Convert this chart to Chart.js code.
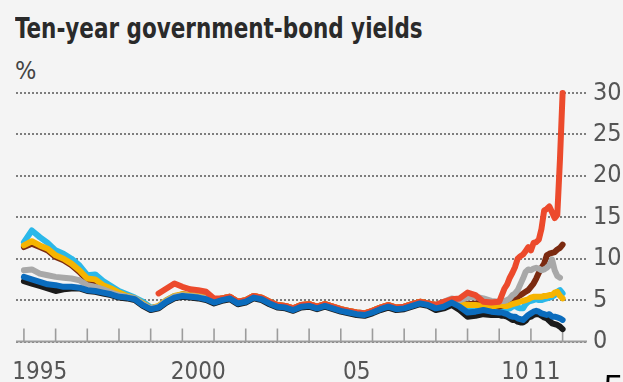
<!DOCTYPE html>
<html>
<head>
<meta charset="utf-8">
<script src="https://cdn.jsdelivr.net/npm/chart.js@4.4.1/dist/chart.umd.min.js"></script>
<style>
  html, body { margin: 0; padding: 0; background: #f4f4f4; overflow: hidden; }
  #wrap { position: relative; width: 623px; height: 382px; overflow: hidden; }
  #wrap canvas { position: absolute; left: 0; top: 0; }
  .txt { position: absolute; font-family: "DejaVu Sans Condensed", "Liberation Sans", sans-serif; white-space: nowrap; line-height: 1; transform-origin: 0 0; }
  #title { left: 15px; top: 14px; font-size: 29px; font-weight: bold; color: #2a2a2a; }
  #unit { left: 15px; top: 58px; font-size: 25px; color: #444; }
  #corner { left: 604px; top: 369px; font-size: 34px; color: #000; font-family: "Liberation Sans", sans-serif; }
</style>
</head>
<body>
<div id="wrap">
  <div class="txt" id="title">Ten-year government-bond yields</div>
  <div class="txt" id="unit">%</div>
  <canvas id="yields" width="623" height="382"></canvas>
  <div class="txt" id="corner">5</div>
</div>
<script>
// quarterly to end-2009, monthly through 2011
const dates = [
  1995, 1995.25, 1995.5, 1995.75, 1996, 1996.25, 1996.5, 1996.75,
  1997, 1997.25, 1997.5, 1997.75, 1998, 1998.25, 1998.5, 1998.75,
  1999, 1999.25, 1999.5, 1999.75, 2000, 2000.25, 2000.5, 2000.75,
  2001, 2001.25, 2001.5, 2001.75, 2002, 2002.25, 2002.5, 2002.75,
  2003, 2003.25, 2003.5, 2003.75, 2004, 2004.25, 2004.5, 2004.75,
  2005, 2005.25, 2005.5, 2005.75, 2006, 2006.25, 2006.5, 2006.75,
  2007, 2007.25, 2007.5, 2007.75, 2008, 2008.25, 2008.5, 2008.75,
  2009, 2009.25, 2009.5, 2009.75,
  2010, 2010.083, 2010.167, 2010.25, 2010.333, 2010.417, 2010.5, 2010.583,
  2010.667, 2010.75, 2010.833, 2010.917,
  2011, 2011.083, 2011.167, 2011.25, 2011.333, 2011.417, 2011.5, 2011.583,
  2011.667, 2011.75, 2011.833, 2011.917,
  2012
];

const france = [
  7.8, 7.5, 7.2, 6.9, 6.8, 6.6, 6.6, 6.5,
  6.2, 6.1, 5.9, 5.7, 5.4, 5.3, 5.1, 4.4,
  3.9, 4.1, 4.8, 5.3, 5.5, 5.4, 5.3, 5.1,
  4.7, 5.0, 5.2, 4.6, 4.8, 5.3, 5.1, 4.6,
  4.2, 4.1, 3.8, 4.2, 4.3, 4.0, 4.3, 4.0,
  3.7, 3.5, 3.3, 3.2, 3.5, 3.9, 4.2, 3.9,
  4.0, 4.3, 4.6, 4.4, 4.0, 4.2, 4.7, 4.2,
  3.5, 3.6, 3.8, 3.6,
  3.5, 3.5, 3.4, 3.3, 3.1, 3.0, 3.0, 2.8, 2.7, 2.6, 2.9, 3.2,
  3.4, 3.6, 3.7, 3.6, 3.4, 3.3, 3.2, 3.3, 3.0, 3.0, 2.9, 2.8,
  2.6
];

const germany = [
  7.3, 7.0, 6.7, 6.4, 6.1, 6.3, 6.4, 6.4,
  6.1, 6.0, 5.8, 5.6, 5.3, 5.2, 5.0, 4.3,
  3.8, 4.0, 4.7, 5.2, 5.4, 5.3, 5.2, 5.0,
  4.6, 4.9, 5.1, 4.5, 4.7, 5.2, 5.0, 4.5,
  4.1, 4.0, 3.7, 4.1, 4.2, 3.9, 4.2, 3.9,
  3.6, 3.4, 3.2, 3.1, 3.4, 3.8, 4.1, 3.8,
  3.9, 4.2, 4.5, 4.3, 3.8, 4.0, 4.4, 3.8,
  3.0, 3.1, 3.3, 3.2,
  3.2, 3.1, 3.1, 3.0, 2.8, 2.6, 2.6, 2.4, 2.3, 2.3, 2.5, 2.9,
  3.0, 3.2, 3.3, 3.3, 3.1, 2.9, 2.8, 2.5, 2.2, 2.1, 2.0, 1.8,
  1.5
];

const greece = [
  null, null, null, null, null, null, null, null,
  null, null, null, null, null, null, null, null,
  null, 5.8, 6.4, 7.0, 6.6, 6.3, 6.2, 6.0,
  5.2, 5.2, 5.4, 4.8, 5.0, 5.5, 5.3, 4.8,
  4.4, 4.3, 4.0, 4.4, 4.5, 4.2, 4.5, 4.2,
  3.9, 3.7, 3.5, 3.4, 3.7, 4.1, 4.4, 4.1,
  4.2, 4.5, 4.8, 4.6, 4.4, 4.8, 5.1, 5.2,
  5.9, 5.6, 4.8, 4.7,
  4.8, 5.6, 6.4, 6.9, 7.7, 8.3, 9.0, 10.0, 10.3, 10.5, 10.9, 11.4,
  11.0, 11.9, 12.0, 12.3, 13.6, 15.8, 16.0, 16.3, 15.6, 14.9, 15.3, 22.0,
  30.0
];

const ireland = [
  8.6, 8.7, 8.2, 8.0, 7.8, 7.7, 7.6, 7.4,
  6.8, 6.6, 6.3, 5.9, 5.6, 5.4, 5.2, 4.5,
  4.0, 4.2, 4.9, 5.4, 5.6, 5.5, 5.4, 5.2,
  4.8, 5.1, 5.3, 4.7, 4.9, 5.4, 5.2, 4.7,
  4.3, 4.2, 3.9, 4.3, 4.4, 4.1, 4.4, 4.1,
  3.8, 3.6, 3.4, 3.3, 3.6, 4.0, 4.3, 4.0,
  4.1, 4.4, 4.7, 4.5, 4.4, 4.8, 5.2, 5.0,
  5.3, 5.4, 5.2, 4.9,
  4.8, 4.9, 4.9, 5.0, 5.2, 5.6, 5.8, 6.2, 6.9, 7.6, 8.4, 8.7,
  8.6, 8.8, 8.9, 8.8, 8.6, 8.7, 8.9, 9.2, 9.9, 8.6, 7.9, 7.7,
  null
];

const italy = [
  11.6, 12.1, 11.6, 11.2, 10.4, 10.0, 9.4, 8.6,
  7.6, 7.5, 6.8, 6.4, 5.9, 5.5, 5.2, 4.6,
  4.0, 4.3, 5.0, 5.5, 5.7, 5.6, 5.5, 5.3,
  4.9, 5.2, 5.4, 4.8, 5.0, 5.5, 5.3, 4.8,
  4.4, 4.3, 4.0, 4.4, 4.5, 4.2, 4.5, 4.2,
  3.9, 3.7, 3.5, 3.4, 3.7, 4.1, 4.4, 4.1,
  4.2, 4.5, 4.8, 4.6, 4.4, 4.7, 4.9, 4.6,
  4.4, 4.4, 4.3, 4.2,
  4.4, 4.4, 4.3, 4.3, 4.4, 4.5, 4.6, 4.7, 4.8, 4.9, 5.0, 5.1,
  5.3, 5.4, 5.4, 5.4, 5.4, 5.5, 5.5, 5.6, 5.6, 5.9, 6.0, 5.5,
  5.2
];

const portugal = [
  11.4, 11.8, 11.4, 11.0, 10.2, 9.8, 9.2, 8.4,
  7.4, 7.3, 6.6, 6.2, 5.8, 5.4, 5.1, 4.5,
  4.0, 4.2, 4.9, 5.4, 5.7, 5.6, 5.5, 5.3,
  4.9, 5.2, 5.4, 4.8, 5.0, 5.5, 5.3, 4.8,
  4.4, 4.3, 4.0, 4.4, 4.5, 4.2, 4.5, 4.2,
  3.9, 3.7, 3.5, 3.4, 3.7, 4.1, 4.4, 4.1,
  4.2, 4.5, 4.8, 4.6, 4.4, 4.7, 5.0, 4.7,
  4.5, 4.6, 4.5, 4.4,
  4.2, 4.3, 4.4, 4.6, 4.8, 4.9, 5.1, 5.4, 5.6, 5.8, 6.0, 6.2,
  6.6, 7.0, 7.6, 8.3, 8.9, 9.4, 10.4, 10.6, 10.7, 10.8, 11.1, 11.3,
  11.7
];

const spain = [
  12.0, 13.4, 12.6, 11.9, 11.0, 10.6, 10.0, 9.2,
  8.0, 8.1, 7.3, 6.7, 6.1, 5.7, 5.3, 4.8,
  4.1, 4.2, 5.0, 5.5, 5.6, 5.5, 5.4, 5.2,
  4.8, 5.1, 5.3, 4.7, 4.9, 5.4, 5.2, 4.7,
  4.3, 4.2, 3.9, 4.3, 4.4, 4.1, 4.4, 4.1,
  3.8, 3.6, 3.4, 3.3, 3.6, 4.0, 4.3, 4.0,
  4.1, 4.4, 4.7, 4.5, 4.2, 4.4, 4.8, 4.3,
  4.1, 4.0, 4.0, 3.9,
  4.0, 4.0, 3.9, 3.9, 4.0, 4.2, 4.3, 4.1, 4.0, 4.0, 4.5, 4.8,
  4.9, 5.0, 5.1, 5.0, 5.0, 5.1, 5.2, 5.3, 5.4, 5.6, 6.0, 6.2,
  5.8
];

// year labels sit in the middle of each year
const xTickYears = [1995.5, 2000.5, 2005.5, 2010.5, 2011.5];
const xTickLabels = ['1995', '2000', '05', '10', '11'];

const series = [
  { data: france,   color: '#0b6cbd' },
  { data: germany,  color: '#1b1b1b' },
  { data: greece,   color: '#ec4a2c' },
  { data: ireland,  color: '#a8a8a8' },
  { data: italy,    color: '#f6b400' },
  { data: portugal, color: '#7b2a10' },
  { data: spain,    color: '#2bb8e9' }
];

const toPoints = vals => dates.map((d, i) => ({ x: d, y: vals[i] }));

// squeeze the headline to the narrow width of the house font
const title = document.getElementById('title');
title.style.transform = 'scaleX(' + (408 / title.offsetWidth) + ')';

// baseline and the little year ticks standing on it
const axisMarks = {
  id: 'axisMarks',
  beforeDatasetsDraw(chart) {
    const { ctx, chartArea, scales } = chart;
    const y0 = scales.y.getPixelForValue(0);
    ctx.save();
    ctx.strokeStyle = '#9c9c9c';
    ctx.lineWidth = 2;
    ctx.beginPath();
    ctx.moveTo(chartArea.left, y0);
    ctx.lineTo(chartArea.right, y0);
    ctx.stroke();
    ctx.lineWidth = 1.6;
    for (let yr = 1995; yr <= 2012; yr++) {
      const x = scales.x.getPixelForValue(yr);
      ctx.beginPath();
      ctx.moveTo(x, y0);
      ctx.lineTo(x, y0 - 13);
      ctx.stroke();
    }
    ctx.restore();
  }
};

const fontFamily = '"DejaVu Sans Condensed", "Liberation Sans", sans-serif';

new Chart(document.getElementById('yields'), {
  type: 'line',
  data: {
    datasets: series.map(s => ({
      data: toPoints(s.data),
      borderColor: s.color,
      borderWidth: 6,
      pointRadius: 0,
      tension: 0,
      spanGaps: false,
      borderJoinStyle: 'round',
      borderCapStyle: 'round',
      clip: 8
    }))
  },
  options: {
    responsive: false,
    animation: false,
    layout: { padding: { left: 16, top: 93, right: 0, bottom: 0 } },
    scales: {
      x: {
        type: 'linear',
        min: 1994.75,
        max: 2012.77,
        afterBuildTicks: axis => { axis.ticks = xTickYears.map(v => ({ value: v })); },
        afterFit: scale => {
          scale.height = 40.5;
          scale.paddingLeft = 0;
          scale.paddingRight = 0;
        },
        ticks: {
          autoSkip: false,
          maxRotation: 0,
          padding: 9,
          color: '#555',
          font: { family: fontFamily, size: 24 },
          callback: value => xTickLabels[xTickYears.indexOf(value)]
        },
        grid: { display: false },
        border: { display: false }
      },
      y: {
        position: 'right',
        min: 0,
        max: 30,
        afterFit: scale => { scale.width = 36; },
        ticks: { stepSize: 5, padding: 6, color: '#555', font: { family: fontFamily, size: 25 } },
        grid: { color: '#7d7d7d', lineWidth: 2, drawTicks: false },
        border: { display: false, dash: [2, 2] }
      }
    },
    plugins: {
      legend: { display: false },
      tooltip: { enabled: false }
    }
  },
  plugins: [axisMarks]
});
</script>
</body>
</html>
